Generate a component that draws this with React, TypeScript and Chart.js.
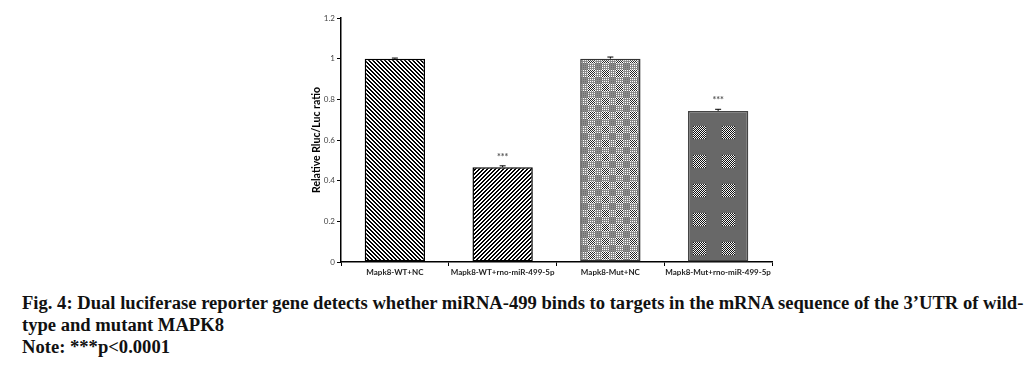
import React, { useEffect, useRef } from "react";
import { Chart, registerables } from "chart.js";

Chart.register(...registerables);

const categories = ["Mapk8-WT+NC", "Mapk8-WT+rno-miR-499-5p", "Mapk8-Mut+NC", "Mapk8-Mut+rno-miR-499-5p"];
const values = [1.0, 0.466, 1.0, 0.743];
const errors = [0.003, 0.007, 0.008, 0.008];
const stars = ["", "***", "", "***"];
const yTicks = [0, 0.2, 0.4, 0.6, 0.8, 1, 1.2];

function makeTile(size: number, draw: (c: CanvasRenderingContext2D) => void) {
  const cv = document.createElement("canvas");
  cv.width = size;
  cv.height = size;
  const c = cv.getContext("2d")!;
  draw(c);
  return cv;
}

function patterns(ctx: CanvasRenderingContext2D) {
  const p1 = makeTile(4, (c) => {
    c.fillStyle = "#fff";
    c.fillRect(0, 0, 4, 4);
    c.fillStyle = "#000";
    for (let i = 0; i < 4; i++) {
      c.fillRect(i, i, 1, 1);
      c.fillRect((i + 1) % 4, i, 1, 1);
    }
  });
  const p2 = makeTile(4, (c) => {
    c.fillStyle = "#fff";
    c.fillRect(0, 0, 4, 4);
    c.fillStyle = "#000";
    for (let i = 0; i < 4; i++) {
      c.fillRect(3 - i, i, 1, 1);
      c.fillRect((4 - i) % 4, i, 1, 1);
    }
  });
  const p3 = makeTile(14, (c) => {
    c.fillStyle = "#8a8a8a";
    c.fillRect(0, 0, 14, 14);
    for (let y = 0; y < 7; y++)
      for (let x = 0; x < 7; x++) {
        c.fillStyle = (x + y) % 2 === 0 ? "#222" : "#fff";
        c.fillRect(x, y, 1, 1);
      }
    c.fillStyle = "#fff";
    for (let x = 7; x < 14; x += 2)
      for (let y = 0; y < 7; y += 2) c.fillRect(x, y, 1, 1);
    for (let x = 0; x < 7; x += 2)
      for (let y = 7; y < 14; y += 2) c.fillRect(x, y, 1, 1);
    c.fillStyle = "#6a6a6a";
    for (let y = 7; y < 14; y += 2)
      for (let x = 7; x < 14; x += 2) c.fillRect(x, y, 1, 1);
  });
  const p4 = makeTile(29, (c) => {
    c.fillStyle = "#686868";
    c.fillRect(0, 0, 29, 29);
    for (let y = 0; y < 13; y++)
      for (let x = 0; x < 13; x++) {
        c.fillStyle = (x + y) % 2 === 0 ? "#111" : "#f4f4f4";
        c.fillRect((26 + x) % 29, (10 + y) % 29, 1, 1);
      }
  });
  return [p1, p2, p3, p4].map((t) => ctx.createPattern(t, "repeat")!);
}

export default function App() {
  const ref = useRef<HTMLCanvasElement>(null);
  useEffect(() => {
    const canvas = ref.current!;
    const ctx = canvas.getContext("2d")!;
    const pats = patterns(ctx);

    const errorPlugin = {
      id: "errbars",
      afterDatasetsDraw(chart: any) {
        const c = chart.ctx;
        const meta = chart.getDatasetMeta(0);
        const ys = chart.scales.y;
        c.save();
        meta.data.forEach((bar: any, i: number) => {
          const x = bar.x;
          const top = ys.getPixelForValue(values[i] + errors[i]);
          const base = ys.getPixelForValue(values[i]);
          c.strokeStyle = "#000";
          c.lineWidth = 1;
          c.beginPath();
          c.moveTo(x, base);
          c.lineTo(x, top);
          c.moveTo(x - 3, top);
          c.lineTo(x + 3, top);
          c.stroke();
          if (stars[i]) {
            c.fillStyle = "#555";
            c.font = "bold 9px Lato";
            c.textAlign = "center";
            c.textBaseline = "middle";
            c.fillText(stars[i], x, top - 9);
          }
        });
        c.restore();
      },
    };

    const chart = new Chart(canvas, {
      type: "bar",
      data: {
        labels: categories,
        datasets: [
          {
            data: values,
            backgroundColor: pats as any,
            borderColor: ["#000", "#000", "#333", "#444"],
            borderWidth: 1.5,
            borderSkipped: false,
            barPercentage: 0.56,
            categoryPercentage: 1,
          },
        ],
      },
      options: {
        responsive: false,
        animation: false,
        devicePixelRatio: 1,
        layout: { padding: { left: 290, right: 264, top: 18, bottom: 0 } },
        plugins: { legend: { display: false }, tooltip: { enabled: false } },
        scales: {
          x: {
            afterFit: (s: any) => {
              s.height = 23;
            },
            grid: { display: true, drawOnChartArea: false, offset: true, tickLength: 4, color: "#000", lineWidth: 1 },
            border: { display: true, color: "#000", width: 1.5 },
            ticks: { color: "#222", font: { family: "Lato", size: 8, weight: "bold" }, padding: 2, maxRotation: 0, autoSkip: false },
          },
          y: {
            min: 0,
            max: 1.2,
            afterFit: (s: any) => {
              s.width = 51;
            },
            afterBuildTicks: (s: any) => {
              s.ticks = yTicks.map((v) => ({ value: v }));
            },
            grid: { display: true, drawOnChartArea: false, tickLength: 4, color: "#000", lineWidth: 1 },
            border: { display: true, color: "#000", width: 1.5 },
            ticks: {
              color: "#444",
              font: { family: "Lato", size: 8 },
              padding: 2,
              callback: (v: any) => String(+Number(v).toFixed(1)),
            },
            title: {
              display: true,
              text: "Relative Rluc/Luc ratio",
              color: "#000",
              font: { family: "Lato", size: 10.5, weight: "bold" },
              padding: { top: 20, bottom: 0 },
            },
          },
        },
      },
      plugins: [errorPlugin],
    });
    return () => chart.destroy();
  }, []);

  const cap: React.CSSProperties = {
    position: "absolute",
    left: 22,
    fontFamily: "'Liberation Serif', 'Times New Roman', serif",
    fontWeight: "bold",
    fontSize: "18.6px",
    whiteSpace: "nowrap",
    color: "#111",
    lineHeight: "22px",
    margin: 0,
  };

  return (
    <div style={{ position: "absolute", left: 0, top: 0, width: 1036, height: 370, background: "#fff" }}>
      <canvas ref={ref} width={1036} height={285} style={{ position: "absolute", left: 0, top: 0 }} />
      <div style={{ ...cap, top: 292 }}>
        Fig. 4: Dual luciferase reporter gene detects whether miRNA-499 binds to targets in the mRNA sequence of the 3’UTR of wild-
      </div>
      <div style={{ ...cap, top: 314 }}>type and mutant MAPK8</div>
      <div style={{ ...cap, top: 336 }}>Note: ***p&lt;0.0001</div>
    </div>
  );
}
